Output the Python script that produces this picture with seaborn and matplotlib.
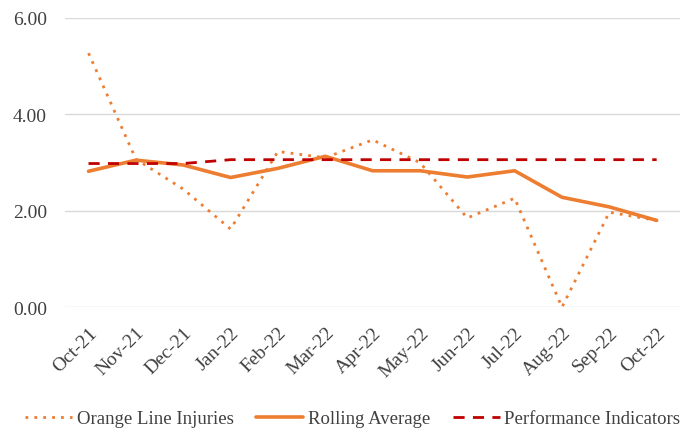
import matplotlib
matplotlib.use("Agg")
import matplotlib.pyplot as plt
import seaborn as sns
import pandas as pd

months = ["Oct-21", "Nov-21", "Dec-21", "Jan-22", "Feb-22", "Mar-22", "Apr-22",
          "May-22", "Jun-22", "Jul-22", "Aug-22", "Sep-22", "Oct-22"]
injuries = [5.27, 3.07, 2.45, 1.62, 3.23, 3.10, 3.47, 3.00, 1.85, 2.26, 0.00, 1.97, 1.80]
rolling_avg = [2.82, 3.05, 2.95, 2.69, 2.88, 3.13, 2.83, 2.83, 2.70, 2.83, 2.28, 2.08, 1.80]
performance = [2.98, 2.98, 2.98, 3.06, 3.06, 3.06, 3.06, 3.06, 3.06, 3.06, 3.06, 3.06, 3.06]
y_ticks = [0, 2, 4, 6]

sns.set_theme(style="white")
plt.rcParams["font.family"] = ["Liberation Serif", "DejaVu Serif"]

df = pd.DataFrame({"month": months, "inj": injuries, "roll": rolling_avg, "perf": performance})
df["pos"] = range(len(months))

fig = plt.figure(figsize=(6.9, 4.31), dpi=100)
ax = fig.add_axes([0.094, 0.285, 0.892, 0.671])

sns.lineplot(data=df, x="pos", y="inj", ax=ax, color="#ED7D31", linestyle=(0, (1, 2.2)),
             linewidth=2.0, label="Orange Line Injuries", sort=False)
sns.lineplot(data=df, x="pos", y="roll", ax=ax, color="#ED7D31", linestyle="-",
             linewidth=2.6, label="Rolling Average", sort=False)
sns.lineplot(data=df, x="pos", y="perf", ax=ax, color="#C00000", linestyle=(0, (4, 3)),
             linewidth=2.0, label="Performance Indicators", sort=False)

ax.set_xlim(-0.5, len(months) - 0.5)
ax.set_ylim(0, 6)
ax.set_yticks(y_ticks)
ax.set_yticklabels([f"{v:.2f}" for v in y_ticks], fontsize=14, color="#404040")
ax.set_xticks(range(len(months)))
ax.set_xticklabels(months, rotation=45, ha="right", rotation_mode="anchor", fontsize=14, color="#404040")
ax.tick_params(axis="x", length=0, pad=12)
ax.tick_params(axis="y", length=0, pad=13)
ax.set_xlabel("")
ax.set_ylabel("")
ax.grid(axis="y", color="#D9D9D9", linewidth=1)
ax.set_axisbelow(True)
for s in ax.spines.values():
    s.set_visible(False)

ax.legend(loc="center", bbox_to_anchor=(0.468, -0.385), ncol=3, frameon=False,
          fontsize=13.5, handlelength=2.5, handletextpad=0.25, columnspacing=1.2,
          labelcolor="#404040", borderaxespad=0, borderpad=0)

fig.savefig("out.png", dpi=100)
